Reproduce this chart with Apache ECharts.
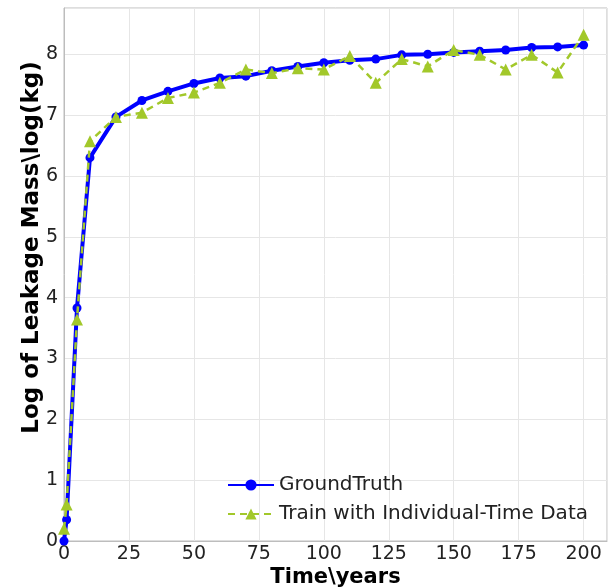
<!DOCTYPE html>
<html>
<head>
<meta charset="utf-8">
<script src="https://cdn.jsdelivr.net/npm/echarts@6/dist/echarts.min.js"></script>
<style>html,body{margin:0;padding:0;background:#fff;}#c{width:610px;height:587px;}</style>
</head>
<body>
<div id="c"></div>
<script>
const years = [0, 1, 5, 10, 20, 30, 40, 50, 60, 70, 80, 90, 100, 110, 120, 130, 140, 150, 160, 170, 180, 190, 200];
const groundTruth = [0, 0.35, 3.83, 6.3, 6.97, 7.24, 7.39, 7.52, 7.61, 7.64, 7.73, 7.8, 7.86, 7.9, 7.92, 7.99, 8.0, 8.03, 8.05, 8.07, 8.11, 8.12, 8.15];
const trainIndividual = [0.2, 0.6, 3.64, 6.57, 6.97, 7.04, 7.28, 7.37, 7.53, 7.75, 7.69, 7.77, 7.75, 7.97, 7.53, 7.92, 7.8, 8.07, 7.99, 7.75, 7.99, 7.7, 8.32];
const seriesNames = ['GroundTruth', 'Train with Individual-Time Data'];
const xLabel = 'Time\\years';
const yLabel = 'Log of Leakage Mass\\log(kg)';

const font = 'DejaVu Sans';
const chart = echarts.init(document.getElementById('c'), null, {renderer: 'canvas'});
const pair = (xs, ys) => xs.map((x, i) => [x, ys[i]]);
chart.setOption({
  animation: false,
  backgroundColor: '#fff',
  grid: {left: 64, right: 3, top: 8, bottom: 46, containLabel: false, outerBoundsMode: 'none',
    show: true, borderColor: '#bdbdbd', borderWidth: 1},
  xAxis: {
    type: 'value', min: 0, max: 209, interval: 25,
    name: xLabel, nameLocation: 'middle', nameGap: 26, nameMoveOverlap: false,
    nameTextStyle: {fontFamily: font, fontSize: 21, fontWeight: 'bold', color: '#000'},
    axisLine: {show: true, lineStyle: {color: '#bdbdbd'}},
    axisTick: {show: false},
    axisLabel: {fontFamily: font, fontSize: 19, color: '#222', margin: 4,
      formatter: v => (v % 25 === 0 ? String(v) : '')},
    splitLine: {show: true, lineStyle: {color: '#e6e6e6', width: 1}}
  },
  yAxis: {
    type: 'value', min: 0, max: 8.76, interval: 1,
    name: yLabel, nameLocation: 'middle', nameGap: 20, nameRotate: 90, nameMoveOverlap: false,
    nameTextStyle: {fontFamily: font, fontSize: 23, fontWeight: 'bold', color: '#000', padding: [0, 0, 0, 54]},
    axisLine: {show: true, lineStyle: {color: '#bdbdbd'}},
    axisTick: {show: false},
    axisLabel: {fontFamily: font, fontSize: 19, color: '#222', margin: 6,
      formatter: v => (Number.isInteger(v) ? String(v) : '')},
    splitLine: {show: true, lineStyle: {color: '#e6e6e6', width: 1}}
  },
  legend: {
    orient: 'vertical', left: 222, top: 470, itemGap: 9,
    itemWidth: 46, itemHeight: 14,
    textStyle: {fontFamily: font, fontSize: 20, color: '#222'},
    data: seriesNames
  },
  series: [
    {
      name: seriesNames[0], type: 'line', data: pair(years, groundTruth),
      symbol: 'circle', symbolSize: 9,
      lineStyle: {color: '#0000ff', width: 4},
      itemStyle: {color: '#0000ff'}, z: 2
    },
    {
      name: seriesNames[1], type: 'line', data: pair(years, trainIndividual),
      symbol: 'triangle', symbolSize: 12,
      lineStyle: {color: '#a2c82a', width: 2.5, type: [7, 5]},
      itemStyle: {color: '#a2c82a'}, z: 3
    }
  ]
});
</script>
</body>
</html>
